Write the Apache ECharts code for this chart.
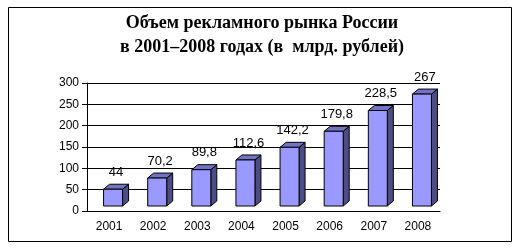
<!DOCTYPE html>
<html><head><meta charset="utf-8">
<script src="https://cdn.jsdelivr.net/npm/echarts@6/dist/echarts.min.js"></script>
<style>html,body{margin:0;padding:0;background:#fff}#c{width:520px;height:250px}</style>
</head><body><div id="c"></div>
<script>
const titleLines = ['Объем рекламного рынка России', 'в 2001–2008 годах (в  млрд. рублей)'];
const years = ['2001','2002','2003','2004','2005','2006','2007','2008'];
const values = [44, 70.2, 89.8, 112.6, 142.2, 179.8, 228.5, 267];
const valueLabels = ['44','70,2','89,8','112,6','142,2','179,8','228,5','267'];
const yTicks = [0, 50, 100, 150, 200, 250, 300];

const chart = echarts.init(document.getElementById('c'), null, {renderer:'canvas'});
const FW = 19, DX = 6, DY = 5, SHIFT = 4;
chart.setOption({
  animation: false,
  title: {
    text: titleLines.join('\n'),
    left: 257, textAlign: 'center', top: 6,
    textStyle: {fontFamily: 'Liberation Serif', fontWeight: 'bold', fontSize: 18, lineHeight: 24, color: '#000'}
  },
  graphic: [{type:'rect', shape:{x:8.5,y:7.5,width:503,height:234}, style:{fill:null, stroke:'#000', lineWidth:1}, silent:true}],
  grid: {left: 87, right: 80, top: 83, bottom: 39},
  xAxis: {
    type: 'category', data: years,
    axisLine: {lineStyle:{color:'#000', width:1}},
    axisTick: {length: 4, lineStyle:{color:'#000'}},
    axisLabel: {color:'#000', fontFamily:'Liberation Sans', fontSize:12, margin:10}
  },
  yAxis: {
    type: 'value', min: yTicks[0], max: yTicks[yTicks.length-1], interval: 50,
    axisLine: {show:true, lineStyle:{color:'#000', width:1}},
    axisTick: {show:true, length:5, lineStyle:{color:'#000'}},
    splitLine: {lineStyle:{color:'#000', width:1}},
    axisLabel: {color:'#000', fontFamily:'Liberation Sans', fontSize:12, margin:8}
  },
  series: [{
    type: 'custom',
    data: values.map((v,i)=>[i, v]),
    renderItem: function(params, api){
      const i = api.value(0), v = api.value(1);
      const c = api.coord([i, v]);
      const b = api.coord([i, 0]);
      const cx = c[0] + SHIFT;
      const x0 = cx - FW/2, x1 = cx + FW/2;
      const yt = c[1] - 3, yb = b[1] - 5;
      return {type:'group', children:[
        {type:'polygon', shape:{points:[[x1,yt],[x1+DX,yt-DY],[x1+DX,yb-DY],[x1,yb]]}, style:{fill:'#4D4D85', stroke:'#000', lineWidth:1}},
        {type:'polygon', shape:{points:[[x0,yt],[x0+DX,yt-DY],[x1+DX,yt-DY],[x1,yt]]}, style:{fill:'#7373C4', stroke:'#000', lineWidth:1}},
        {type:'rect', shape:{x:x0, y:yt, width:FW, height:yb-yt}, style:{fill:'#9999FF', stroke:'#000', lineWidth:1}},
        {type:'text', style:{text: valueLabels[params.dataIndex], x: cx + DX/2, y: yt - DY - 12, align:'center', verticalAlign:'middle', fontFamily:'Liberation Sans', fontSize:13, fill:'#000'}}
      ]};
    }
  }]
});
</script></body></html>
